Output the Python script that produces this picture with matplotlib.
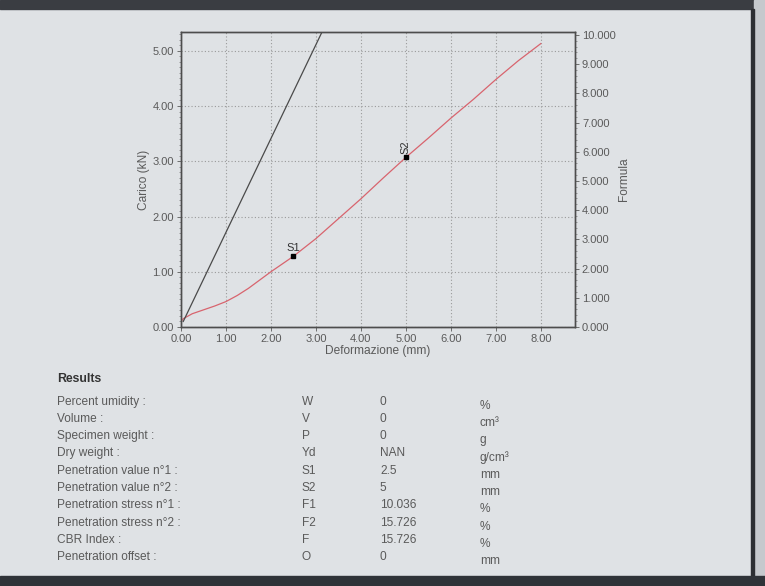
import numpy as np
import matplotlib
matplotlib.use("Agg")
import matplotlib.pyplot as plt
from matplotlib.ticker import MultipleLocator, FormatStrFormatter
from matplotlib.patches import Rectangle

plt.rcParams['font.family'] = ['Liberation Sans', 'DejaVu Sans']

# load curve (red)
def_mm = [0.0, 0.05, 0.25, 0.5, 0.75, 1.0, 1.25, 1.5, 1.75, 2.0, 2.25, 2.5, 2.75,
          3.0, 3.5, 4.0, 4.5, 5.0, 5.5, 6.0, 6.5, 7.0, 7.5, 8.0]
load_kn = [0.10, 0.15, 0.24, 0.31, 0.38, 0.46, 0.57, 0.70, 0.85, 1.00, 1.14, 1.28, 1.44,
           1.60, 1.96, 2.32, 2.70, 3.07, 3.42, 3.78, 4.12, 4.48, 4.82, 5.13]

# black straight line
line_x = [0.05, 3.20]
line_y = [0.10, 5.45]

# penetration points
pts_name = ["S1", "S2"]
pts_x = [2.5, 5.0]
pts_y = [1.28, 3.07]

# results table
res_label = ["Percent umidity :", "Volume :", "Specimen weight :", "Dry weight :",
             "Penetration value n\u00b01 :", "Penetration value n\u00b02 :",
             "Penetration stress n\u00b01 :", "Penetration stress n\u00b02 :",
             "CBR Index :", "Penetration offset :"]
res_sym = ["W", "V", "P", "Yd", "S1", "S2", "F1", "F2", "F", "O"]
res_val = ["0", "0", "0", "NAN", "2.5", "5", "10.036", "15.726", "15.726", "0"]
res_unit = ["%", "cm\u00b3", "g", "g/cm\u00b3", "mm", "mm", "%", "%", "%", "mm"]

bg = "#dfe2e5"
txt = "#5a5a5a"

fig = plt.figure(figsize=(7.65, 5.86), dpi=100)
fig.patch.set_facecolor(bg)

# window frame bits from the photo
fig.patches.append(Rectangle((0, 0.985), 1, 0.015, transform=fig.transFigure,
                             color="#3a3d42", zorder=0))
fig.patches.append(Rectangle((0.985, 0), 0.015, 1, transform=fig.transFigure,
                             color="#c5c9cd", zorder=0))
fig.patches.append(Rectangle((0.982, 0), 0.003, 0.985, transform=fig.transFigure,
                             color="#2c2f33", zorder=0))
fig.patches.append(Rectangle((0, 0), 1, 0.017, transform=fig.transFigure,
                             color="#2f3338", zorder=0))

ax = fig.add_axes([0.2366, 0.442, 0.515, 0.5034])
ax.set_facecolor(bg)
ax.plot(def_mm, load_kn, color="#d8646e", lw=0.9, zorder=3)
ax.plot(line_x, line_y, color="#4a4a4a", lw=0.9, zorder=3)
ax.plot(pts_x, pts_y, "s", color="black", ms=2.5, zorder=4)
ax.text(pts_x[0], pts_y[0] + 0.06, pts_name[0], fontsize=8, color="#333333",
        ha="center", va="bottom")
ax.text(pts_x[1], pts_y[1] + 0.06, pts_name[1], fontsize=8, color="#333333",
        ha="center", va="bottom", rotation=90)

ax.set_xlim(0, 8.76)
ax.set_ylim(0, 5.34)
ax.xaxis.set_major_locator(MultipleLocator(1))
ax.yaxis.set_major_locator(MultipleLocator(1))
ax.yaxis.set_minor_locator(MultipleLocator(0.1))
ax.xaxis.set_major_formatter(FormatStrFormatter("%.2f"))
ax.yaxis.set_major_formatter(FormatStrFormatter("%.2f"))
ax.grid(True, which="major", color="#9a9a9a", ls=(0, (1, 2)), lw=0.8)
ax.tick_params(labelsize=8, colors=txt, length=3, width=0.6, pad=2)
ax.tick_params(which="minor", length=1.5, width=0.5, colors="#777777")
for s in ax.spines.values():
    s.set_color("#4d4d4d")
    s.set_linewidth(1.0)
ax.set_xlabel("Deformazione (mm)", fontsize=8.6, color=txt, labelpad=1)
ax.set_ylabel("Carico (kN)", fontsize=8.6, color=txt, labelpad=2)

ax2 = ax.twinx()
ax2.set_ylim(0, 10.1)
ax2.yaxis.set_major_locator(MultipleLocator(1))
ax2.yaxis.set_minor_locator(MultipleLocator(0.2))
ax2.yaxis.set_major_formatter(FormatStrFormatter("%.3f"))
ax2.tick_params(labelsize=8, colors=txt, length=3, width=0.6, pad=2)
ax2.tick_params(which="minor", length=1.5, width=0.5, colors="#777777")
ax2.set_ylabel("Formula", fontsize=8.6, color=txt, labelpad=2)
for s in ax2.spines.values():
    s.set_color("#4d4d4d")
    s.set_linewidth(1.0)

# Results block
fig.text(57 / 765, 1 - 379 / 586, "Results", fontsize=8.8, fontweight="bold",
         color="#333333", va="center")
row_y = [402, 419, 436, 453, 471, 488, 505, 523, 540, 557]
for i in range(len(res_label)):
    y = 1 - row_y[i] / 586
    fig.text(57 / 765, y, res_label[i], fontsize=8.6, color=txt, va="center")
    fig.text(302 / 765, y, res_sym[i], fontsize=8.6, color=txt, va="center")
    fig.text(380 / 765, y, res_val[i], fontsize=8.6, color=txt, va="center")
    fig.text(480 / 765, y - 0.007, res_unit[i], fontsize=8.6, color=txt, va="center")

plt.savefig("out.png", dpi=100, facecolor=fig.get_facecolor())
plt.close()
